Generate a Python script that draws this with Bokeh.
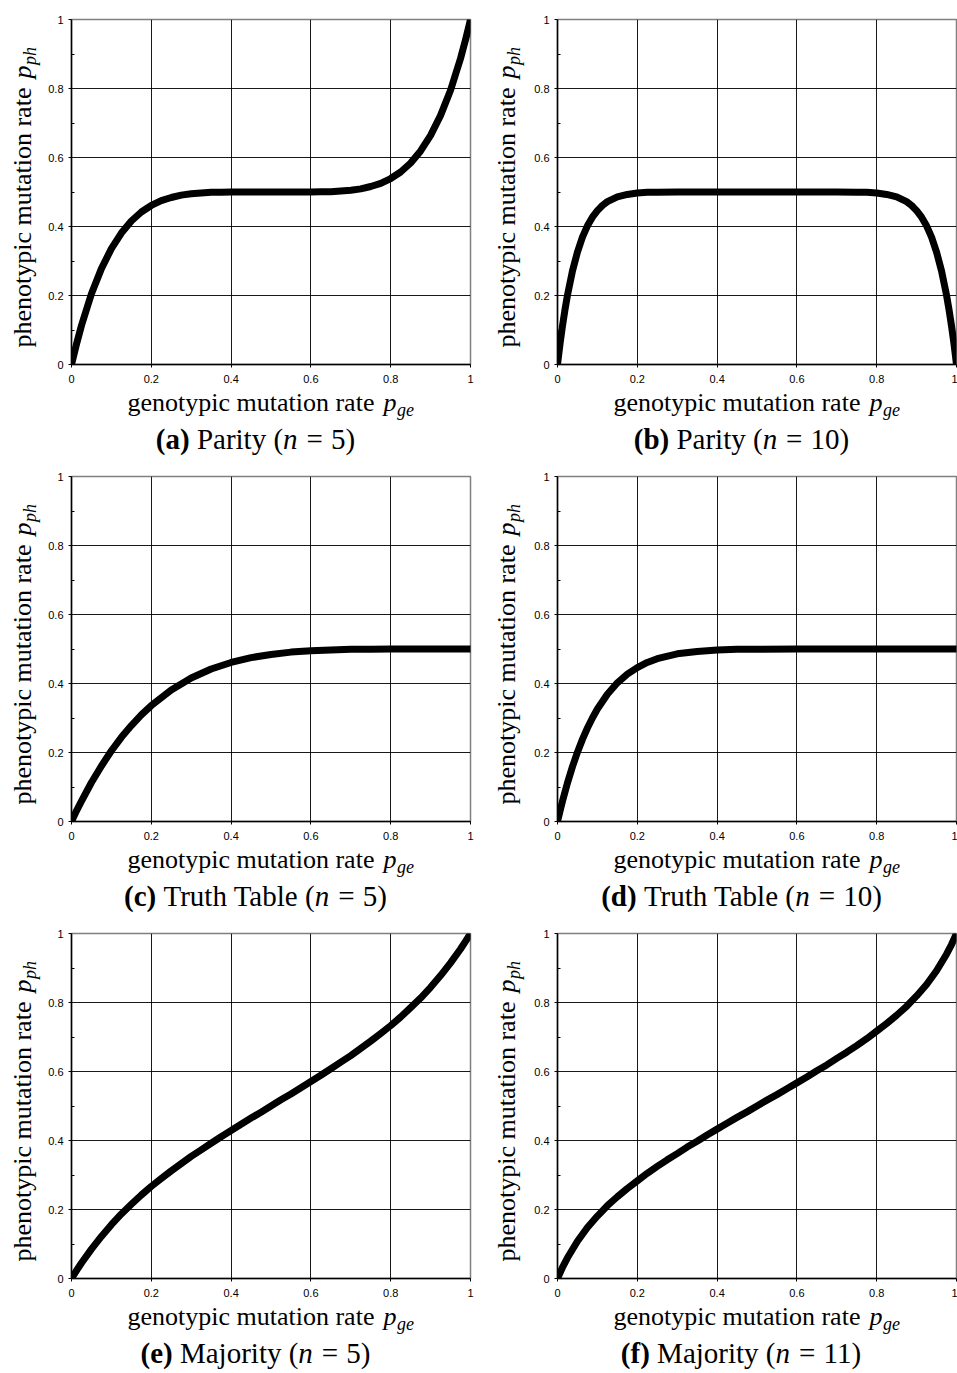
import math
from bokeh.plotting import figure
from bokeh.layouts import column, row
from bokeh.models import Range1d, FixedTicker, Label, CustomJSTickFormatter, Plot
from bokeh.embed import file_html
from bokeh.resources import INLINE

# ---------------- data ----------------
tick_values = [0, 0.2, 0.4, 0.6, 0.8, 1.0]
minor_tick_values = [0.1, 0.3, 0.5, 0.7, 0.9]
grid_values = [0.2, 0.4, 0.6, 0.8]

x_parity5 = [0, 0.0125, 0.025, 0.05, 0.075, 0.1, 0.125, 0.15, 0.175, 0.2, 0.225, 0.25, 0.275,
             0.3, 0.325, 0.35, 0.375, 0.4, 0.45, 0.5, 0.55, 0.6, 0.625, 0.65, 0.675, 0.7,
             0.725, 0.75, 0.775, 0.8, 0.825, 0.85, 0.875, 0.9, 0.925, 0.95, 0.975, 0.9875, 1.0]
y_parity5 = [0, 0.059, 0.113, 0.205, 0.278, 0.336, 0.381, 0.416, 0.442, 0.461, 0.475, 0.484, 0.491,
             0.495, 0.497, 0.499, 0.4995, 0.5, 0.5, 0.5, 0.5, 0.5, 0.5005, 0.501, 0.503, 0.505,
             0.509, 0.516, 0.525, 0.539, 0.558, 0.584, 0.619, 0.664, 0.722, 0.795, 0.887, 0.941, 1.0]

x_parity10 = [0, 0.00625, 0.0125, 0.01875, 0.025, 0.0375, 0.05, 0.0625, 0.075, 0.0875, 0.1,
              0.1125, 0.125, 0.15, 0.175, 0.2, 0.225, 0.25, 0.3, 0.5, 0.7, 0.75, 0.775, 0.8,
              0.825, 0.85, 0.875, 0.8875, 0.9, 0.9125, 0.925, 0.9375, 0.95, 0.9625, 0.975,
              0.98125, 0.9875, 0.99375, 1.0]
y_parity10 = [0, 0.059, 0.112, 0.159, 0.201, 0.271, 0.326, 0.369, 0.402, 0.427, 0.446,
              0.461, 0.472, 0.486, 0.493, 0.497, 0.499, 0.4995, 0.5, 0.5, 0.5, 0.4995, 0.499, 0.497,
              0.493, 0.486, 0.472, 0.461, 0.446, 0.427, 0.402, 0.369, 0.326, 0.271, 0.201,
              0.159, 0.112, 0.059, 0]

x_truth5 = [0, 0.0125, 0.025, 0.05, 0.075, 0.1, 0.125, 0.15, 0.175, 0.2, 0.25, 0.3, 0.35, 0.4,
            0.45, 0.5, 0.55, 0.6, 0.65, 0.7, 0.75, 0.8, 0.9, 1.0]
y_truth5 = [0, 0.031, 0.059, 0.113, 0.161, 0.205, 0.244, 0.278, 0.309, 0.336, 0.381, 0.416, 0.442,
            0.461, 0.475, 0.484, 0.491, 0.495, 0.497, 0.499, 0.4995, 0.5, 0.5, 0.5]

x_truth10 = [0, 0.00625, 0.0125, 0.025, 0.0375, 0.05, 0.0625, 0.075, 0.0875, 0.1, 0.125, 0.15,
             0.175, 0.2, 0.225, 0.25, 0.3, 0.35, 0.4, 0.45, 0.5, 0.6, 0.7, 1.0]
y_truth10 = [0, 0.030, 0.059, 0.112, 0.159, 0.201, 0.238, 0.271, 0.300, 0.326, 0.369, 0.402,
             0.427, 0.446, 0.461, 0.472, 0.486, 0.493, 0.497, 0.499, 0.4995, 0.5, 0.5, 0.5]

x_major5 = [0, 0.0125, 0.025, 0.05, 0.075, 0.1, 0.125, 0.15, 0.175, 0.2, 0.225, 0.25, 0.275, 0.3,
            0.325, 0.35, 0.375, 0.4, 0.425, 0.45, 0.475, 0.5, 0.525, 0.55, 0.575, 0.6, 0.625,
            0.65, 0.675, 0.7, 0.725, 0.75, 0.775, 0.8, 0.825, 0.85, 0.875, 0.9, 0.925, 0.95,
            0.975, 0.9875, 1.0]
y_major5 = [0, 0.023, 0.045, 0.085, 0.122, 0.156, 0.187, 0.215, 0.242, 0.267, 0.290, 0.312, 0.333,
            0.354, 0.373, 0.392, 0.411, 0.429, 0.447, 0.465, 0.482, 0.5, 0.518, 0.535, 0.553,
            0.571, 0.589, 0.608, 0.627, 0.646, 0.667, 0.688, 0.710, 0.733, 0.758, 0.785, 0.813,
            0.844, 0.878, 0.915, 0.955, 0.977, 1.0]

x_major11 = [0, 0.0125, 0.025, 0.05, 0.075, 0.1, 0.125, 0.15, 0.175, 0.2, 0.225, 0.25, 0.275,
             0.3, 0.325, 0.35, 0.375, 0.4, 0.425, 0.45, 0.475, 0.5, 0.525, 0.55, 0.575, 0.6,
             0.625, 0.65, 0.675, 0.7, 0.725, 0.75, 0.775, 0.8, 0.825, 0.85, 0.875, 0.9, 0.925,
             0.95, 0.975, 0.9875, 1.0]
y_major11 = [0, 0.032, 0.060, 0.108, 0.148, 0.181, 0.211, 0.237, 0.261, 0.283, 0.305, 0.325,
             0.344, 0.362, 0.381, 0.398, 0.416, 0.433, 0.450, 0.467, 0.483, 0.5, 0.517, 0.533,
             0.550, 0.567, 0.584, 0.602, 0.619, 0.638, 0.656, 0.675, 0.695, 0.717, 0.739, 0.763,
             0.789, 0.819, 0.852, 0.892, 0.940, 0.968, 1.0]

panel_letters = ["(a)", "(b)", "(c)", "(d)", "(e)", "(f)"]
panel_names = ["Parity", "Parity", "Truth Table", "Truth Table", "Majority", "Majority"]
panel_n = ["5", "10", "5", "10", "5", "11"]

x_label_text = "genotypic mutation rate"
y_label_text = "phenotypic mutation rate"

# ---------------- styling helpers ----------------
SERIF = "Liberation Serif"
SANS = "Liberation Sans"

REG = {' ': 250, '(': 333, ')': 333, '=': 564, 'P': 556, 'T': 611, 'M': 889,
       'a': 444, 'b': 500, 'c': 444, 'e': 444, 'g': 500, 'h': 500, 'i': 278, 'j': 278,
       'l': 278, 'm': 778, 'n': 500, 'o': 500, 'p': 500, 'r': 333, 't': 278, 'u': 500, 'y': 500}
BOLD = {'(': 333, ')': 333, 'a': 500, 'b': 556, 'c': 444, 'd': 556, 'e': 444, 'f': 333}
KERN = {'Ta': -80, 'Tr': -35}

AX_F = 26      # axis label font size
SUB_F = 18     # subscript font size
CAP_F = 29     # caption font size
BL = 30        # left border of the plot figures (room for tick labels)
PLOT_H = 387   # height of each plot figure (top border 19 + frame 345 + bottom 23)
BASE_SHIFT = 0.34  # baseline compensation (fraction of font size)


def text_width(s, table, size):
    w = sum(table.get(c, 500) for c in s)
    w += sum(KERN.get(s[i:i + 2], 0) for i in range(len(s) - 1))
    return w / 1000.0 * size


def lab(p, x, y, text, size, style="normal", rotated=False, font=SERIF):
    # (x, y) is the intended start of the alphabetic baseline
    if rotated:
        x = x - BASE_SHIFT * size
        angle = math.pi / 2
    else:
        y = y + BASE_SHIFT * size
        angle = 0.0
    p.add_layout(Label(x=x, y=y, text=text,
                       text_font=font, text_font_size=f"{size}px", text_font_style=style,
                       text_color="black", text_align="left", text_baseline="alphabetic",
                       angle=angle))


def blank_fig(w, h):
    f = Plot(width=w, height=h, x_range=Range1d(0, w), y_range=Range1d(0, h),
             output_backend="svg", toolbar_location=None, title=None, frame_align=False,
             min_border=0, min_border_left=0, min_border_right=0,
             min_border_top=0, min_border_bottom=0)
    f.outline_line_color = None
    f.background_fill_color = "white"
    f.border_fill_color = "white"
    return f


def make_plot(xs, ys, width, br):
    p = figure(width=width, height=PLOT_H, x_range=Range1d(0, 1), y_range=Range1d(0, 1),
               output_backend="svg", toolbar_location=None, frame_align=False,
               min_border_left=BL, min_border_right=br, min_border_top=19,
               min_border_bottom=PLOT_H - 19 - 345)
    p.background_fill_color = "white"
    p.border_fill_color = "white"
    p.outline_line_color = "#808080"
    p.outline_line_width = 1.5

    p.xaxis.ticker = FixedTicker(ticks=tick_values)
    p.xaxis.formatter = CustomJSTickFormatter(code="return String(Number(tick.toFixed(2)));")
    p.xaxis.major_tick_out = 3
    p.xaxis.major_tick_in = 0
    p.xaxis.major_label_standoff = 7
    p.yaxis.ticker = FixedTicker(ticks=tick_values, minor_ticks=minor_tick_values)
    p.yaxis.formatter = CustomJSTickFormatter(code="return String(Number(tick.toFixed(2)));")
    p.yaxis.major_tick_out = 3
    p.yaxis.major_tick_in = 0
    p.yaxis.minor_tick_in = 3
    p.yaxis.minor_tick_out = 0
    p.yaxis.major_label_standoff = 5
    p.yaxis.major_label_orientation = "horizontal"
    for ax in (p.xaxis, p.yaxis):
        ax.axis_line_color = "black"
        ax.axis_line_width = 1.5
        ax.major_tick_line_color = "black"
        ax.major_label_text_font = SANS
        ax.major_label_text_font_size = "11px"
        ax.major_label_text_color = "black"
    p.xaxis.minor_tick_line_color = None
    p.yaxis.minor_tick_line_color = "black"

    p.xgrid.ticker = FixedTicker(ticks=grid_values)
    p.ygrid.ticker = FixedTicker(ticks=grid_values)
    for g in (p.xgrid, p.ygrid):
        g.grid_line_color = "black"
        g.grid_line_alpha = 0.9
        g.grid_line_width = 1

    p.line(xs, ys, line_color="black", line_width=7, line_cap="round", line_join="round")
    return p


def make_panel(xs, ys, idx, left_col, row_h):
    if left_col:
        ylw, plot_w, br, base_x = 41, 439, 10, 31
    else:
        ylw, plot_w, br, base_x = 47, 430, 1, 35
    plot = make_plot(xs, ys, plot_w, br)

    # rotated y label with subscript
    yf = blank_fig(ylw, row_h)
    y0 = row_h - 347
    lab(yf, base_x, y0, y_label_text, AX_F, rotated=True)
    py = y0 + text_width(y_label_text, REG, AX_F) + 0.35 * AX_F
    lab(yf, base_x, py, "p", AX_F, "italic", rotated=True)
    lab(yf, base_x + 5, py + 0.52 * AX_F, "ph", SUB_F, "italic", rotated=True)

    # x label + caption (baselines at 411 and 448 px below the row top)
    th = row_h - PLOT_H
    tf = blank_fig(plot_w, th)
    xb = th - (411 - PLOT_H)
    x0 = BL + 56
    lab(tf, x0, xb, x_label_text, AX_F)
    px = x0 + text_width(x_label_text, REG, AX_F) + 0.35 * AX_F
    lab(tf, px, xb, "p", AX_F, "italic")
    lab(tf, px + 0.52 * AX_F, xb - 5, "ge", SUB_F, "italic")

    C = CAP_F
    letter, name, nval = panel_letters[idx], panel_names[idx], panel_n[idx]
    w_letter = text_width(letter, BOLD, C)
    gap1 = 0.25 * C
    w_name = text_width(name + " (", REG, C)
    w_n = 0.53 * C
    gap2 = 0.28 * C
    w_eq = 0.564 * C
    w_val = text_width(nval + ")", REG, C)
    total = w_letter + gap1 + w_name + w_n + gap2 + w_eq + gap2 + w_val
    cx = BL + 184 - total / 2
    cy = th - (448 - PLOT_H)
    lab(tf, cx, cy, letter, C, "bold")
    cx += w_letter + gap1
    lab(tf, cx, cy, name + " (", C)
    cx += w_name
    lab(tf, cx, cy, "n", C, "italic")
    cx += w_n + gap2
    lab(tf, cx, cy, "=", C)
    cx += w_eq + gap2
    lab(tf, cx, cy, nval + ")", C)

    return row(yf, column(plot, tf))


series = [(x_parity5, y_parity5), (x_parity10, y_parity10),
          (x_truth5, y_truth5), (x_truth10, y_truth10),
          (x_major5, y_major5), (x_major11, y_major11)]
row_heights = [457, 457, 459]

panels = []
for i, (xs, ys) in enumerate(series):
    panels.append(make_panel(xs, ys, i, i % 2 == 0, row_heights[i // 2]))

layout = column(row(panels[0], panels[1]), row(panels[2], panels[3]), row(panels[4], panels[5]))

open("out.html", "w").write(file_html(layout, INLINE))
